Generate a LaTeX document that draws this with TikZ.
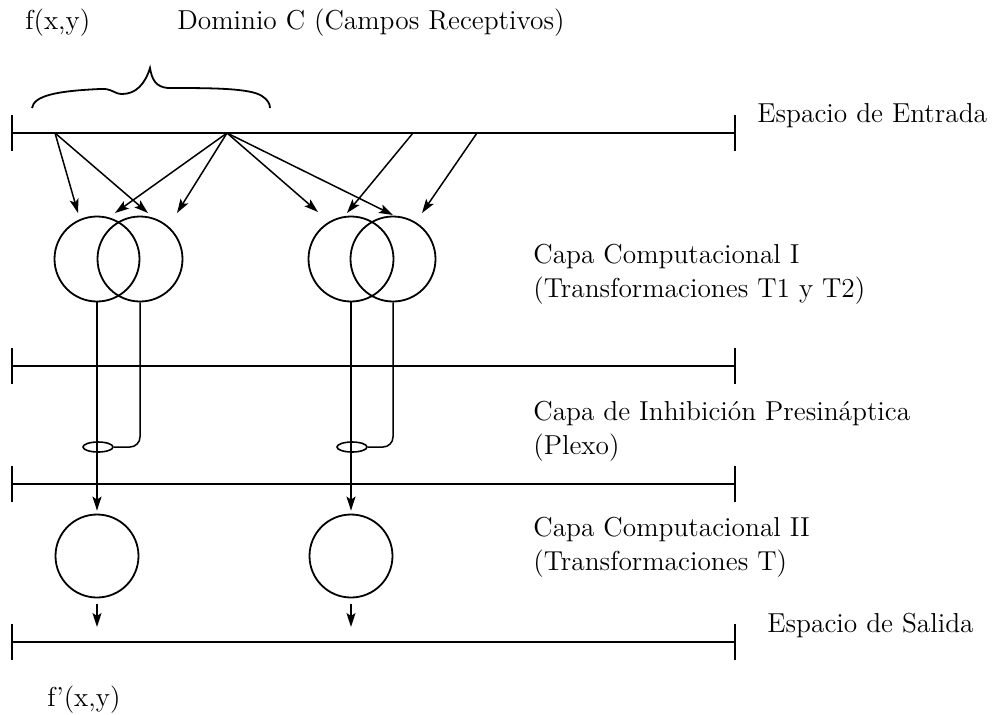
\documentclass[tikz,border=0pt]{standalone}
\usepackage{tikz}
\usetikzlibrary{positioning}
\usetikzlibrary{calc}
\usetikzlibrary{arrows.meta}
\usetikzlibrary{shapes.geometric}

\tikzset{
	capa/.style={line width=1pt},
	neurona/.style={circle, draw, line width=0.9pt, minimum size=42.5pt, inner sep=0pt},
	lazo/.style={ellipse, draw, line width=0.8pt, minimum width=15pt, minimum height=5pt, inner sep=0pt},
	axon/.style={line width=0.75pt},
	flecha/.style={line width=0.75pt, -{Stealth[length=7pt,width=4.5pt,inset=1.5pt]}},
	rotulo/.style={font=\fontsize{13.7}{17}\selectfont, inner sep=0pt, anchor=west, align=left},
}

\begin{document}
\begin{tikzpicture}[x=0.5pt,y=-0.5pt]
	\useasboundingbox (0,0) rectangle (1008,714);
	
	% the four layer lines, each with a tick at both ends
	\foreach \n/\y in {1/133,2/366,3/484,4/642}{
		\coordinate (L\n) at (12,\y); \coordinate (R\n) at (735,\y);
		\draw[capa] (L\n) -- (R\n);
		\draw[capa] ($(L\n)+(0,-18)$) -- ($(L\n)+(0,18)$);
		\draw[capa] ($(R\n)+(0,-18)$) -- ($(R\n)+(0,18)$);
	}
	
	\node[rotulo] at (25,23) (fxy) {f(x,y)}; \node[rotulo] at (177,23) (domC) {Dominio C (Campos Receptivos)};
	\node[rotulo, right=11pt of R1, yshift=8.5pt] (entrada) {Espacio de Entrada};
	\node[rotulo] at (533,274) (capaI) {Capa Computacional I\\(Transformaciones T1 y T2)};
	\node[rotulo] at (533,431) (plexo) {Capa de Inhibición Presináptica\\(Plexo)};
	\node[rotulo] at (533,547) (capaII) {Capa Computacional II\\(Transformaciones T)};
	\node[rotulo, right=16pt of R4, yshift=8pt] (salida) {Espacio de Salida};
	\node[rotulo] at (47,700) (gxy) {f'(x,y)};
	
	% receptive field brace
	\draw[line width=0.9pt] (32,108) .. controls (34,96) and (55,91) .. (100,89) .. controls (112,88) and (114,94) .. (122,94)
		.. controls (136,94) and (145,84) .. (150,68) .. controls (152,80) and (156,87) .. (168,88)
		.. controls (210,88) and (250,88) .. (262,96) .. controls (268,100) and (270,104) .. (270,108);
	
	% computational layer I
	\node[neurona] at (97,259) (1Ta) {}; \node[neurona] at (140,259) (1Tb) {};
	\node[neurona] at (351,259) (1Tc) {}; \node[neurona] at (393,259) (1Td) {};
	
	\coordinate (e1) at (55,133); \coordinate (e2) at (227,133); \coordinate (e3) at (413,133); \coordinate (e4) at (477,133);
	\coordinate (p1) at (78,213); \coordinate (p2) at (148,213); \coordinate (p3) at (115,213); \coordinate (p4) at (177,213);
	\coordinate (p5) at (318,212); \coordinate (p6) at (393,215); \coordinate (p7) at (347,213); \coordinate (p8) at (422,213);
	\draw[flecha] (e1) -- (p1); \draw[flecha] (e1) -- (p2);
	\draw[flecha] (e2) -- (p3); \draw[flecha] (e2) -- (p4); \draw[flecha] (e2) -- (p5); \draw[flecha] (e2) -- (p6);
	\draw[flecha] (e3) -- (p7); \draw[flecha] (e4) -- (p8);
	
	% presynaptic loops and computational layer II
	\node[lazo] at (98,447) (2La) {}; \node[lazo] at (352,447) (2Lb) {};
	\node[neurona, minimum size=41.5pt] at (97,556) (3Ta) {}; \node[neurona, minimum size=41.5pt] at (351,556) (3Tb) {};
	
	\draw[flecha, shorten >=1.5pt] (1Ta.south) -- (3Ta.north); \draw[axon, rounded corners=5pt] (1Tb.south) |- (2La.east);
	\draw[flecha, shorten >=1.5pt] (1Tc.south) -- (3Tb.north); \draw[axon, rounded corners=5pt] (1Td.south) |- (2Lb.east);
	
	\coordinate (o1) at (97,627); \coordinate (o2) at (351,627);
	\draw[flecha, shorten <=3pt] (3Ta.south) -- (o1); \draw[flecha, shorten <=3pt] (3Tb.south) -- (o2);
	
\end{tikzpicture}
\end{document}
